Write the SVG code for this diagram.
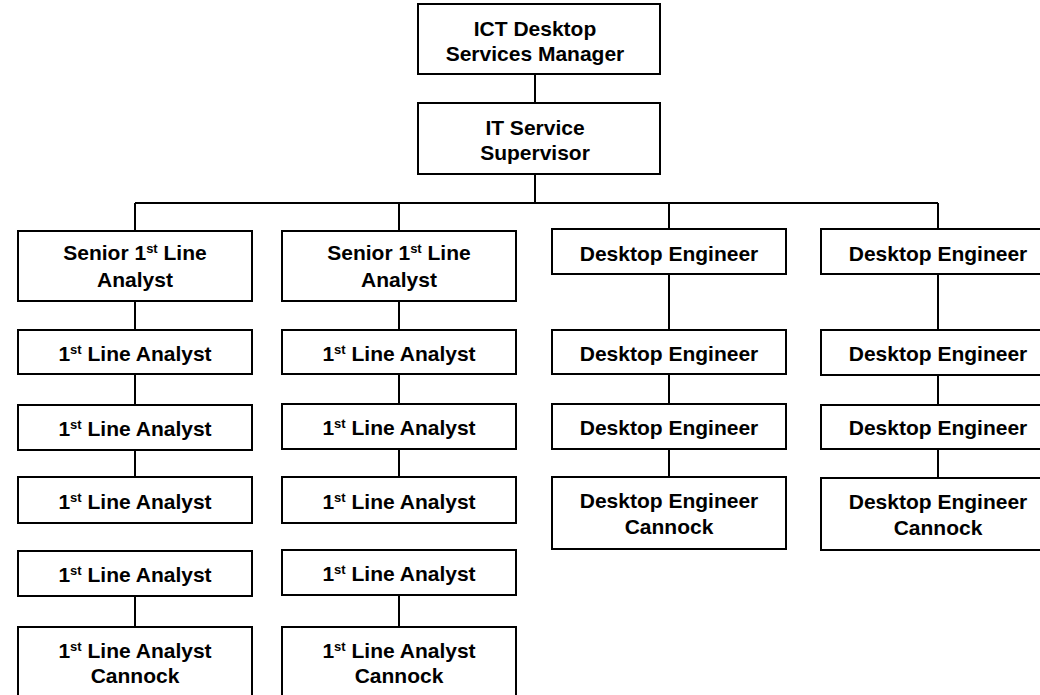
<svg xmlns="http://www.w3.org/2000/svg" width="1040" height="695" viewBox="0 0 1040 695">
<style>
.box{fill:#fff;stroke:#000;stroke-width:2}
.t{font-family:"Liberation Sans",Arial,sans-serif;font-weight:bold;font-size:21px;fill:#000;text-anchor:middle}
.sup{font-size:13px}
.c{stroke:#000;stroke-width:2;fill:none}
</style>
<rect width="1040" height="695" fill="#fff"/>
<g id="connectors">
<path class="c" d="M535 74V103M535 174V203M135 203H938M135 203V231M399 203V231M669 203V229M938 203V229"/>
<path class="c" d="M135 301V330M135 374V405M135 450V477M135 596V627"/>
<path class="c" d="M399 301V330M399 374V404M399 449V477M399 595V627"/>
<path class="c" d="M669 274V330M669 374V404M669 449V477"/>
<path class="c" d="M938 274V330M938 375V405M938 449V478"/>
</g>
<g id="n-manager"><rect class="box" x="418" y="4" width="242" height="70"/><text class="t" x="535" y="36">ICT Desktop</text><text class="t" x="535" y="61">Services Manager</text></g>
<g id="n-supervisor"><rect class="box" x="418" y="103" width="242" height="71"/><text class="t" x="535" y="135">IT Service</text><text class="t" x="535" y="160">Supervisor</text></g>

<g id="n-senior1"><rect class="box" x="18" y="231" width="234" height="70"/><text class="t" x="135" y="260">Senior 1<tspan class="sup" dy="-7">st</tspan><tspan dy="7"> Line</tspan></text><text class="t" x="135" y="287">Analyst</text></g>
<g id="n-c1a"><rect class="box" x="18" y="330" width="234" height="44"/><text class="t" x="135" y="361">1<tspan class="sup" dy="-7">st</tspan><tspan dy="7"> Line Analyst</tspan></text></g>
<g id="n-c1b"><rect class="box" x="18" y="405" width="234" height="45"/><text class="t" x="135" y="436">1<tspan class="sup" dy="-7">st</tspan><tspan dy="7"> Line Analyst</tspan></text></g>
<g id="n-c1c"><rect class="box" x="18" y="477" width="234" height="46"/><text class="t" x="135" y="509">1<tspan class="sup" dy="-7">st</tspan><tspan dy="7"> Line Analyst</tspan></text></g>
<g id="n-c1d"><rect class="box" x="18" y="551" width="234" height="45"/><text class="t" x="135" y="582">1<tspan class="sup" dy="-7">st</tspan><tspan dy="7"> Line Analyst</tspan></text></g>
<g id="n-c1e"><rect class="box" x="18" y="627" width="234" height="72"/><text class="t" x="135" y="658">1<tspan class="sup" dy="-7">st</tspan><tspan dy="7"> Line Analyst</tspan></text><text class="t" x="135" y="683">Cannock</text></g>

<g id="n-senior2"><rect class="box" x="282" y="231" width="234" height="70"/><text class="t" x="399" y="260">Senior 1<tspan class="sup" dy="-7">st</tspan><tspan dy="7"> Line</tspan></text><text class="t" x="399" y="287">Analyst</text></g>
<g id="n-c2a"><rect class="box" x="282" y="330" width="234" height="44"/><text class="t" x="399" y="361">1<tspan class="sup" dy="-7">st</tspan><tspan dy="7"> Line Analyst</tspan></text></g>
<g id="n-c2b"><rect class="box" x="282" y="404" width="234" height="45"/><text class="t" x="399" y="435">1<tspan class="sup" dy="-7">st</tspan><tspan dy="7"> Line Analyst</tspan></text></g>
<g id="n-c2c"><rect class="box" x="282" y="477" width="234" height="46"/><text class="t" x="399" y="509">1<tspan class="sup" dy="-7">st</tspan><tspan dy="7"> Line Analyst</tspan></text></g>
<g id="n-c2d"><rect class="box" x="282" y="550" width="234" height="45"/><text class="t" x="399" y="581">1<tspan class="sup" dy="-7">st</tspan><tspan dy="7"> Line Analyst</tspan></text></g>
<g id="n-c2e"><rect class="box" x="282" y="627" width="234" height="72"/><text class="t" x="399" y="658">1<tspan class="sup" dy="-7">st</tspan><tspan dy="7"> Line Analyst</tspan></text><text class="t" x="399" y="683">Cannock</text></g>

<g id="n-c3a"><rect class="box" x="552" y="229" width="234" height="45"/><text class="t" x="669" y="261">Desktop Engineer</text></g>
<g id="n-c3b"><rect class="box" x="552" y="330" width="234" height="44"/><text class="t" x="669" y="361">Desktop Engineer</text></g>
<g id="n-c3c"><rect class="box" x="552" y="404" width="234" height="45"/><text class="t" x="669" y="435">Desktop Engineer</text></g>
<g id="n-c3d"><rect class="box" x="552" y="477" width="234" height="72"/><text class="t" x="669" y="508">Desktop Engineer</text><text class="t" x="669" y="534">Cannock</text></g>

<g id="n-c4a"><rect class="box" x="821" y="229" width="234" height="45"/><text class="t" x="938" y="261">Desktop Engineer</text></g>
<g id="n-c4b"><rect class="box" x="821" y="330" width="234" height="45"/><text class="t" x="938" y="361">Desktop Engineer</text></g>
<g id="n-c4c"><rect class="box" x="821" y="405" width="234" height="44"/><text class="t" x="938" y="435">Desktop Engineer</text></g>
<g id="n-c4d"><rect class="box" x="821" y="478" width="234" height="72"/><text class="t" x="938" y="509">Desktop Engineer</text><text class="t" x="938" y="535">Cannock</text></g>
</svg>
